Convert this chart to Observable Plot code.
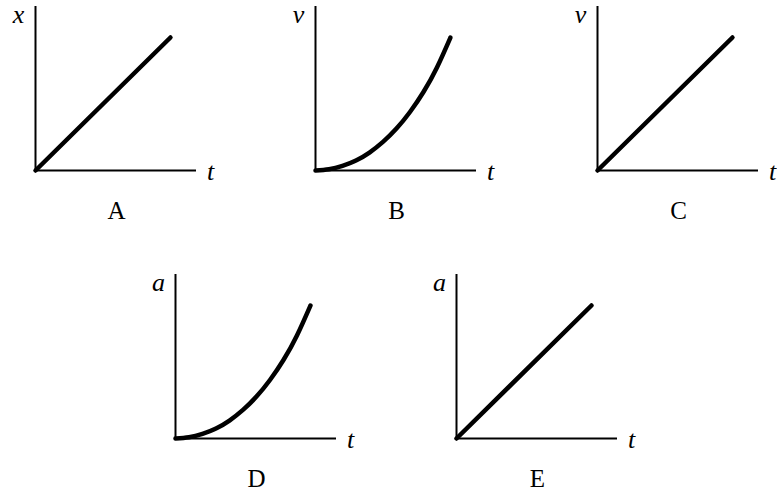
<!DOCTYPE html>
<html>
<head>
<meta charset="utf-8">
<script src="https://cdn.jsdelivr.net/npm/d3@7"></script>
<script src="https://cdn.jsdelivr.net/npm/@observablehq/plot@0.6"></script>
<style>
  html, body { margin: 0; padding: 0; background: #fff; }
  #chart { position: relative; width: 777px; height: 493px; overflow: hidden; }
  #chart svg { position: absolute; overflow: visible; background: transparent; }
</style>
</head>
<body>
<div id="chart"></div>
<script>
// ---- data ----
const panelLetters = ["A", "B", "C", "D", "E"];
const yLabels = ["x", "v", "v", "a", "a"];
const xLabel = "t";
const panelShapes = ["linear", "curve", "linear", "curve", "linear"];
// panel origins (layout of the 2-row grid)
const panelLeft = [35, 315, 597, 175, 456];
const panelBase = [170, 170, 170, 438, 438];

const linearT = [0, 1];
const linearV = [0, 1];
const curveT = [0, 0.1, 0.2, 0.3, 0.4, 0.5, 0.6, 0.7, 0.8, 0.9, 1.0];
const curveV = [0, 0.01, 0.035, 0.075, 0.135, 0.215, 0.315, 0.44, 0.59, 0.775, 1.0];

const tMax = 1.193;   // axis extent in t units
const vMax = 1.233;   // axis extent in value units

const ML = 30, MR = 40, MT = 5, MB = 60;
const AXW = 161, AXH = 164;

const chart = document.getElementById("chart");
const serif = "Liberation Serif";

panelLetters.forEach((letter, i) => {
  const T = panelShapes[i] === "linear" ? linearT : curveT;
  const V = panelShapes[i] === "linear" ? linearV : curveV;
  const pts = T.map((t, j) => ({t, v: V[j]}));
  const svg = Plot.plot({
    width: ML + AXW + MR,
    height: MT + AXH + MB,
    marginLeft: ML, marginRight: MR, marginTop: MT, marginBottom: MB,
    x: {domain: [0, tMax], axis: null},
    y: {domain: [0, vMax], axis: null},
    marks: [
      Plot.ruleY([0], {x1: 0, x2: tMax, stroke: "black", strokeWidth: 2}),
      Plot.ruleX([0], {y1: 0, y2: vMax, stroke: "black", strokeWidth: 2}),
      Plot.line(pts, {x: "t", y: "v", stroke: "black", strokeWidth: 4.5,
        strokeLinecap: "round", strokeLinejoin: "round", curve: "natural"}),
      Plot.text([yLabels[i]], {x: 0, y: vMax, dx: -17, dy: 8,
        fontFamily: serif, fontStyle: "italic", fontSize: 26, fill: "black"}),
      Plot.text([xLabel], {x: tMax, y: 0, dx: 14, dy: 1,
        fontFamily: serif, fontStyle: "italic", fontSize: 26, fill: "black"}),
      Plot.text([letter], {x: 0.6, y: 0, dy: 40,
        fontFamily: serif, fontSize: 25, fill: "black"})
    ]
  });
  d3.select(svg).selectAll("text").style("font-family", "'Liberation Serif', serif");
  svg.style.left = (panelLeft[i] - ML) + "px";
  svg.style.top = (panelBase[i] - MT - AXH) + "px";
  chart.appendChild(svg);
});
</script>
</body>
</html>
